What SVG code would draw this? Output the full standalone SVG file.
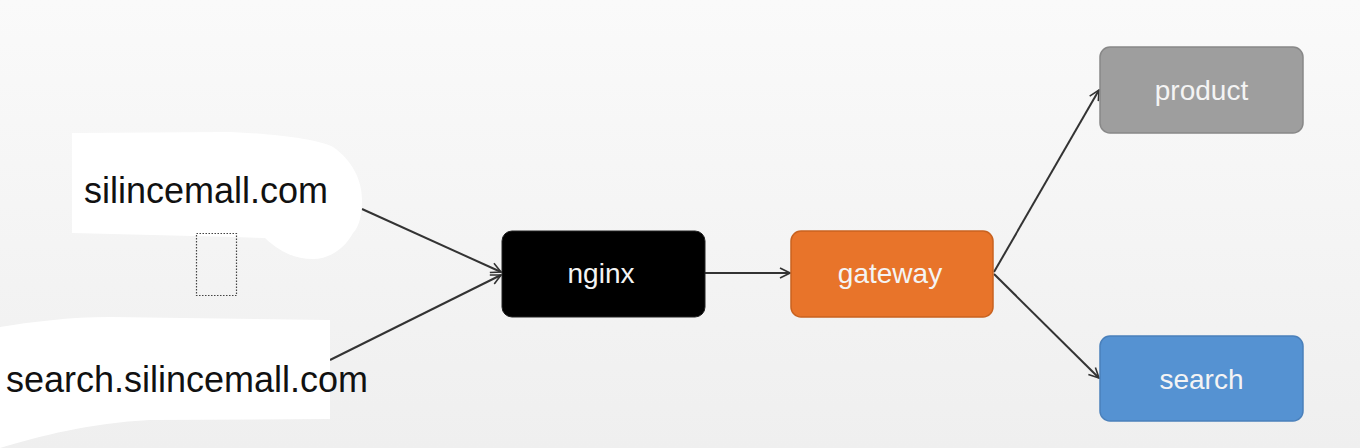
<svg xmlns="http://www.w3.org/2000/svg" width="1360" height="448" viewBox="0 0 1360 448">
  <defs>
    <linearGradient id="bg" x1="0" y1="0" x2="0" y2="1">
      <stop offset="0" stop-color="#fafafa"/>
      <stop offset="1" stop-color="#efefef"/>
    </linearGradient>
    <marker id="arr" viewBox="0 0 12 12" refX="11" refY="6" markerWidth="12" markerHeight="12" markerUnits="userSpaceOnUse" orient="auto">
      <path d="M1,1 L11,6 L1,11" fill="none" stroke="#333" stroke-width="1.6"/>
    </marker>
    <style>
      .conn { stroke: #333; stroke-width: 2; fill: none; marker-end: url(#arr); }
      .node text { font-family: "Liberation Sans", Arial, sans-serif; font-size: 28px; fill: #f4f4f4; text-anchor: middle; }
      .dom { font-family: "Liberation Sans", Arial, sans-serif; font-size: 36px; fill: #111; }
      .blob { fill: #ffffff; }
    </style>
  </defs>
  <rect width="1360" height="448" fill="url(#bg)"/>

  <g id="connectors">
    <line class="conn" x1="362" y1="209" x2="501" y2="272"/>
    <line class="conn" x1="330" y1="360" x2="501" y2="275"/>
    <line class="conn" x1="705" y1="273" x2="790" y2="273"/>
    <line class="conn" x1="994" y1="272" x2="1099" y2="90"/>
    <line class="conn" x1="994" y1="274" x2="1099" y2="378"/>
  </g>

  <g id="silincemall">
    <path class="blob" d="M72,133 L230,132 C280,134 320,140 333,147 C352,160 362,180 362,200 C362,218 358,228 353,233 C345,248 330,259 313,259 C295,259 280,252 265,238 L233,237 L72,233 Z"/>
    <text class="dom" x="84" y="203">silincemall.com</text>
  </g>

  <g id="dotted-box">
    <rect x="196.5" y="233.5" width="40" height="62" fill="none" stroke="#444" stroke-width="1.2" stroke-dasharray="1.5 1.5"/>
  </g>

  <g id="search-domain">
    <path class="blob" d="M0,327 C30,322 70,317 110,317 L330,320 L330,419 L150,420 C90,423 40,436 0,448 Z"/>
    <text class="dom" x="6" y="392">search.silincemall.com</text>
  </g>

  <g id="nginx" class="node">
    <rect x="502" y="231" width="203" height="86" rx="10" fill="#000000" stroke="#222" stroke-width="1"/>
    <text x="601" y="283">nginx</text>
  </g>

  <g id="gateway" class="node">
    <rect x="791" y="231" width="202" height="86" rx="10" fill="#E8742A" stroke="#c9621f" stroke-width="1.5"/>
    <text x="890" y="283">gateway</text>
  </g>

  <g id="product" class="node">
    <rect x="1100" y="47" width="203" height="86" rx="10" fill="#9E9E9E" stroke="#888" stroke-width="1.5"/>
    <text x="1201.5" y="100">product</text>
  </g>

  <g id="search" class="node">
    <rect x="1100" y="336" width="203" height="85" rx="10" fill="#5592D2" stroke="#4a80bb" stroke-width="1.5"/>
    <text x="1201.5" y="389">search</text>
  </g>
</svg>
